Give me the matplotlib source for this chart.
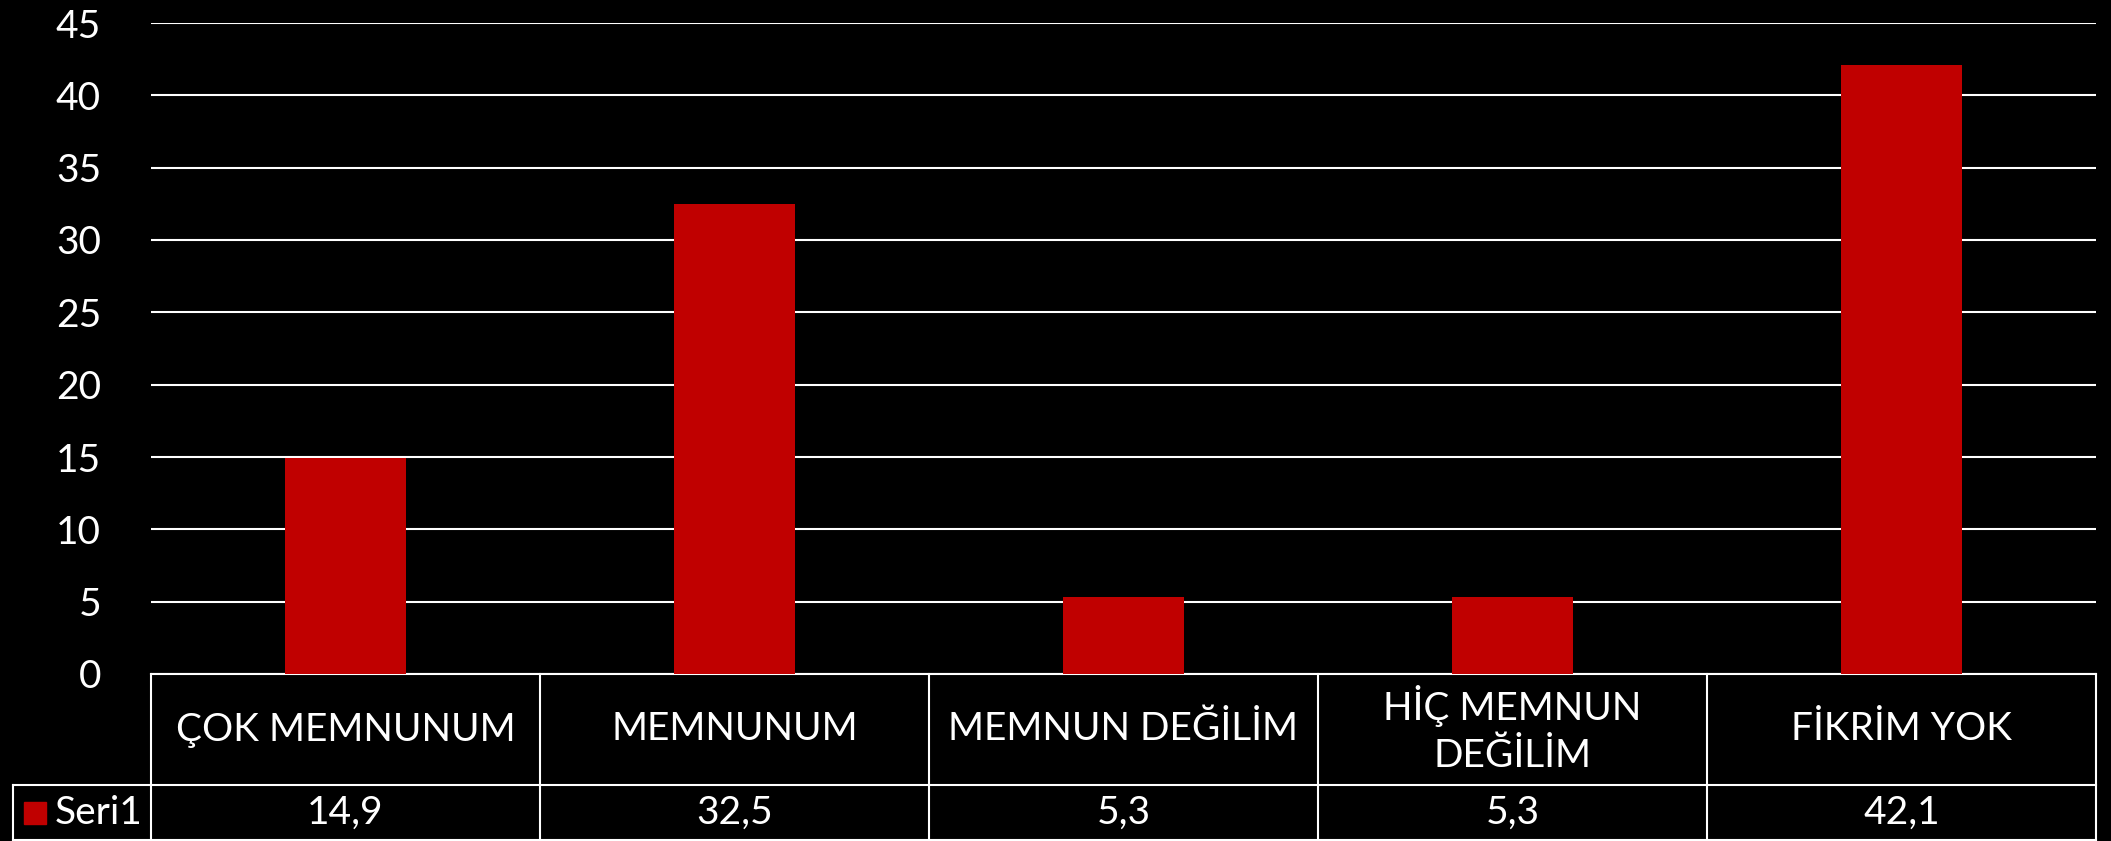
import matplotlib
matplotlib.use('Agg')
import matplotlib.pyplot as plt
from matplotlib.transforms import blended_transform_factory
from matplotlib.patches import Rectangle

categories = ['ÇOK MEMNUNUM', 'MEMNUNUM', 'MEMNUN DEĞİLİM', 'HİÇ MEMNUN\nDEĞİLİM', 'FİKRİM YOK']
values = [14.9, 32.5, 5.3, 5.3, 42.1]
value_labels = ['14,9', '32,5', '5,3', '5,3', '42,1']
series_name = 'Seri1'
y_ticks = [0, 5, 10, 15, 20, 25, 30, 35, 40, 45]

plt.rcParams['font.family'] = ['Lato', 'DejaVu Sans']

W, H = 2111, 841
RED = '#C00000'
FS = 28

fig = plt.figure(figsize=(W / 100, H / 100), dpi=100, facecolor='black')
ax = fig.add_axes([151 / W, 1 - 674 / H, (2096 - 151) / W, (674 - 23) / H])
ax.set_facecolor('black')

x = list(range(len(categories)))
ax.bar(x, values, width=0.31, color=RED, zorder=3)
ax.set_xlim(-0.5, len(categories) - 0.5)
ax.set_ylim(0, 45)
ax.set_yticks(y_ticks)
ax.set_xticks([])
ax.yaxis.grid(True, color='white', linewidth=1.5)
ax.set_axisbelow(True)
for s in ax.spines.values():
    s.set_visible(False)
ax.tick_params(axis='y', length=0, pad=36, labelsize=FS, colors='white')

# data table under the plot: x in data units, y in figure pixels
def fy(px):
    return 1 - px / H

tr = blended_transform_factory(ax.transData, fig.transFigure)
ftr = fig.transFigure
lw = 1.5
y_top, y_mid, y_bot = 674, 785, 840

ax.plot([-0.5, len(categories) - 0.5], [fy(y_top)] * 2, color='white', lw=lw,
        transform=tr, clip_on=False)
ax.plot([-0.5, len(categories) - 0.5], [fy(y_bot)] * 2, color='white', lw=lw,
        transform=tr, clip_on=False)
for b in [i - 0.5 for i in range(len(categories) + 1)]:
    ax.plot([b, b], [fy(y_top), fy(y_bot)], color='white', lw=lw,
            transform=tr, clip_on=False)

# row separator and legend cell
left = 13 / W
x0 = ax.get_position().x0
fig.add_artist(plt.Line2D([left, 1 - 15 / W], [fy(y_mid)] * 2, color='white', lw=lw))
fig.add_artist(plt.Line2D([left, x0], [fy(y_bot)] * 2, color='white', lw=lw))
fig.add_artist(plt.Line2D([left, left], [fy(y_mid), fy(y_bot)], color='white', lw=lw))
fig.add_artist(Rectangle((24 / W, fy(824)), 22 / W, 22 / H, color=RED, transform=ftr))
fig.text(55 / W, fy((y_mid + y_bot) / 2), series_name, color='white', fontsize=FS,
         ha='left', va='center')

for i, (cat, lab) in enumerate(zip(categories, value_labels)):
    ax.text(i, fy((y_top + y_mid) / 2), cat, transform=tr, color='white', fontsize=FS,
            ha='center', va='center', linespacing=1.35)
    ax.text(i, fy((y_mid + y_bot) / 2), lab, transform=tr, color='white', fontsize=FS,
            ha='center', va='center')

fig.savefig('out.png', dpi=100, facecolor='black')
